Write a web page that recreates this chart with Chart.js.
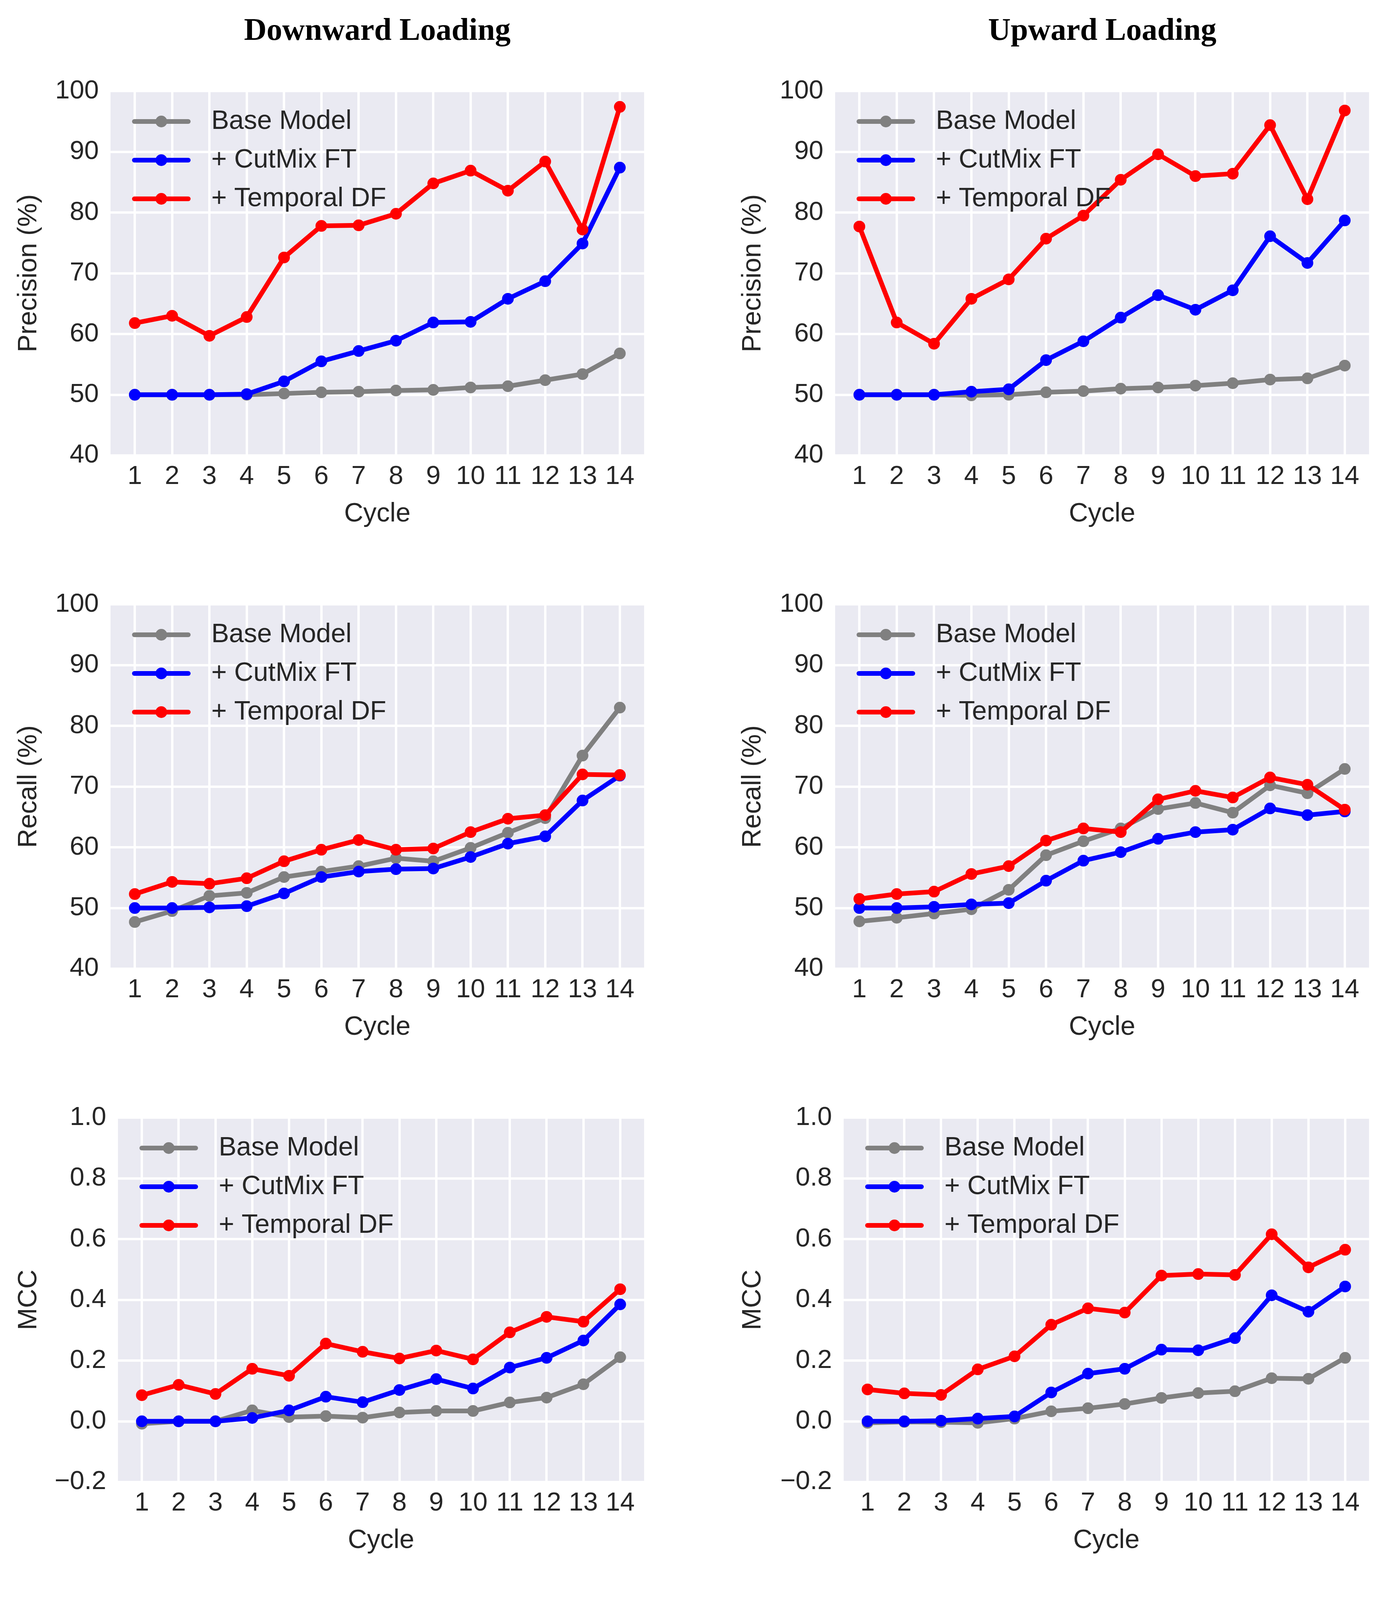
<!DOCTYPE html>
<html>
<head>
<meta charset="utf-8">
<script src="https://cdn.jsdelivr.net/npm/chart.js@4.4.1/dist/chart.umd.min.js"></script>
<style>
  body { margin: 0; background: #fff; }
  #page { position: relative; width: 3551px; height: 5336px; overflow: hidden; }
  .col-title { position: absolute; top: 35px; width: 1000px; text-align: center;
    font: bold 80px "Liberation Serif", "DejaVu Serif", serif; line-height: 80px; color: #000; }
  canvas { position: absolute; }
</style>
</head>
<body>
<div id="page">
<div class="col-title" style="left:466px">Downward Loading</div>
<div class="col-title" style="left:2322px">Upward Loading</div>
</div>
<script>
// cycles on the x axis
const cycles = [1, 2, 3, 4, 5, 6, 7, 8, 9, 10, 11, 12, 13, 14];

// tick labels
const pctTicks = [40, 50, 60, 70, 80, 90, 100];
const pctTickLabels = ['40', '50', '60', '70', '80', '90', '100'];
const mccTicks = [-0.2, 0, 0.2, 0.4, 0.6, 0.8, 1.0];
const mccTickLabels = ['\u22120.2', '0.0', '0.2', '0.4', '0.6', '0.8', '1.0'];
const miouTicks = [0.4, 0.5, 0.6, 0.7, 0.8, 0.9, 1.0];
const miouTickLabels = ['0.4', '0.5', '0.6', '0.7', '0.8', '0.9', '1.0'];

const lineLabels = ['Base Model', '+ CutMix FT', '+ Temporal DF'];
const barLabels = ['Base Model', '+ CutMix FT', '+ RoI filtering', '+ Temporal DF'];

// Precision (%)
const downPrecBase     = [50.0, 50.0, 50.0, 50.0, 50.2, 50.4, 50.5, 50.7, 50.8, 51.2, 51.4, 52.4, 53.4, 56.8];
const downPrecCutmix   = [50.0, 50.0, 50.0, 50.1, 52.2, 55.5, 57.2, 58.9, 61.9, 62.0, 65.8, 68.7, 74.9, 87.4];
const downPrecTemporal = [61.8, 63.0, 59.7, 62.8, 72.6, 77.8, 77.9, 79.8, 84.8, 86.9, 83.6, 88.4, 77.2, 97.4];
const upPrecBase       = [50.0, 50.0, 50.0, 49.9, 50.0, 50.4, 50.6, 51.0, 51.2, 51.5, 51.9, 52.5, 52.7, 54.8];
const upPrecCutmix     = [50.0, 50.0, 50.0, 50.5, 50.9, 55.7, 58.8, 62.7, 66.4, 64.0, 67.2, 76.1, 71.7, 78.7];
const upPrecTemporal   = [77.7, 61.9, 58.4, 65.8, 69.0, 75.7, 79.5, 85.4, 89.6, 86.0, 86.4, 94.4, 82.2, 96.8];

// Recall (%)
const downRecBase      = [47.7, 49.5, 52.0, 52.5, 55.1, 56.0, 56.9, 58.2, 57.7, 59.9, 62.4, 64.8, 75.1, 83.0];
const downRecCutmix    = [50.0, 50.0, 50.1, 50.3, 52.4, 55.1, 56.0, 56.4, 56.5, 58.4, 60.6, 61.8, 67.7, 71.8];
const downRecTemporal  = [52.3, 54.3, 54.0, 54.9, 57.7, 59.6, 61.2, 59.6, 59.8, 62.5, 64.7, 65.3, 72.0, 71.9];
const upRecBase        = [47.8, 48.4, 49.1, 49.8, 53.0, 58.7, 61.0, 63.1, 66.3, 67.3, 65.7, 70.2, 68.9, 72.9];
const upRecCutmix      = [50.0, 50.0, 50.2, 50.6, 50.8, 54.5, 57.8, 59.2, 61.4, 62.5, 62.9, 66.4, 65.3, 65.9];
const upRecTemporal    = [51.5, 52.3, 52.7, 55.6, 56.9, 61.1, 63.1, 62.5, 67.9, 69.3, 68.2, 71.5, 70.3, 66.2];

// MCC
const downMccBase      = [-0.008, 0.0, 0.0, 0.036, 0.014, 0.017, 0.012, 0.029, 0.034, 0.034, 0.062, 0.078, 0.122, 0.211];
const downMccCutmix    = [0.0, 0.0, 0.0, 0.011, 0.036, 0.081, 0.063, 0.103, 0.139, 0.108, 0.177, 0.209, 0.266, 0.385];
const downMccTemporal  = [0.086, 0.120, 0.090, 0.173, 0.150, 0.256, 0.229, 0.207, 0.233, 0.204, 0.293, 0.344, 0.328, 0.435];
const upMccBase        = [-0.005, -0.002, -0.003, -0.005, 0.009, 0.033, 0.043, 0.057, 0.077, 0.093, 0.099, 0.142, 0.140, 0.209];
const upMccCutmix      = [0.0, 0.0, 0.002, 0.009, 0.016, 0.095, 0.157, 0.173, 0.236, 0.234, 0.274, 0.415, 0.361, 0.444];
const upMccTemporal    = [0.105, 0.092, 0.087, 0.171, 0.214, 0.318, 0.372, 0.358, 0.480, 0.485, 0.482, 0.616, 0.507, 0.565];

// mIoU after each stage (cumulative)
const downMiouBase     = [0.478, 0.480, 0.480, 0.481, 0.484, 0.482, 0.481, 0.485, 0.485, 0.489, 0.491, 0.500, 0.510, 0.543];
const downMiouCutmix   = [0.500, 0.500, 0.500, 0.502, 0.511, 0.527, 0.534, 0.539, 0.544, 0.552, 0.571, 0.583, 0.629, 0.688];
const downMiouRoi      = [0.500, 0.500, 0.501, 0.504, 0.525, 0.548, 0.557, 0.562, 0.562, 0.581, 0.602, 0.614, 0.659, 0.712];
const downMiouTemporal = [0.520, 0.535, 0.530, 0.537, 0.563, 0.581, 0.594, 0.584, 0.588, 0.612, 0.627, 0.638, 0.672, 0.712];
const upMiouBase       = [0.478, 0.478, 0.478, 0.479, 0.478, 0.481, 0.481, 0.487, 0.486, 0.491, 0.495, 0.502, 0.502, 0.521];
const upMiouCutmix     = [0.500, 0.500, 0.500, 0.502, 0.504, 0.526, 0.544, 0.559, 0.577, 0.575, 0.584, 0.624, 0.608, 0.627];
const upMiouRoi        = [0.500, 0.500, 0.501, 0.505, 0.508, 0.544, 0.574, 0.591, 0.614, 0.622, 0.627, 0.660, 0.645, 0.655];
const upMiouTemporal   = [0.512, 0.520, 0.522, 0.545, 0.556, 0.592, 0.609, 0.612, 0.662, 0.667, 0.660, 0.701, 0.664, 0.655];

// styles
const TEXT = '#262626';
const PLOT_BG = '#EAEAF2';
const LINE_COLORS = ['#808080', '#0000FF', '#FF0000'];
const BAR_COLORS = ['#808080', '#0000FF', '#FFA500', '#FF0000'];
const FONT = 68, TICK_FONT = 67;
const PLOT_H = 943, PAD_TOP = 60, PAD_RIGHT = 40, X_AXIS_H = 200;
const page = document.getElementById('page');

Chart.defaults.font.family = '"Liberation Sans", Arial, sans-serif';
Chart.defaults.color = TEXT;

const plotBg = {
  id: 'plotBg',
  beforeDraw(chart) {
    const {ctx, chartArea: a} = chart;
    ctx.save();
    ctx.fillStyle = PLOT_BG;
    ctx.fillRect(a.left, a.top, a.width, a.height);
    ctx.restore();
  }
};

// matplotlib draws the legend above the lines
const legendOnTop = {
  id: 'legendOnTop',
  beforeLayout(chart) {
    const lg = chart.legend;
    if (lg && !lg._onTop) {
      lg._onTop = true;
      lg._layers = () => [{z: 1, draw: area => lg.draw(area)}];
    }
  }
};

function lineIcon(color) {
  const c = document.createElement('canvas');
  c.width = 155; c.height = 40;
  const g = c.getContext('2d');
  g.strokeStyle = color; g.lineWidth = 12; g.lineCap = 'round';
  g.beginPath(); g.moveTo(11, 20); g.lineTo(149, 20); g.stroke();
  g.fillStyle = color;
  g.beginPath(); g.arc(80, 20, 15, 0, Math.PI * 2); g.fill();
  return c;
}

function boxIcon(color) {
  const c = document.createElement('canvas');
  c.width = 144; c.height = 46;
  const g = c.getContext('2d');
  g.fillStyle = color;
  g.fillRect(5, 0, 139, 46);
  return c;
}

function mountCanvas(geo) {
  const cv = document.createElement('canvas');
  const w = geo.plotRight + PAD_RIGHT - geo.canvasLeft;
  const h = PAD_TOP + PLOT_H + X_AXIS_H;
  cv.width = w; cv.height = h;
  Object.assign(cv.style, {
    left: geo.canvasLeft + 'px', top: (geo.plotTop - PAD_TOP) + 'px',
    width: w + 'px', height: h + 'px'
  });
  page.appendChild(cv);
  return cv;
}

const gridOpts = {color: '#FFFFFF', lineWidth: 6, drawTicks: false, offset: false};

function xAxis(min, max, stacked) {
  return {
    type: 'linear', min, max, offset: false, stacked,
    afterBuildTicks: s => { s.ticks = cycles.map(v => ({value: v})); },
    afterFit: s => { s.height = X_AXIS_H; },
    grid: gridOpts,
    border: {display: false},
    ticks: {padding: 14, autoSkip: false, maxRotation: 0, color: TEXT,
            font: {size: TICK_FONT}, callback: v => String(v)},
    title: {display: true, text: 'Cycle', color: TEXT, font: {size: FONT}, padding: {top: 0, bottom: 9}}
  };
}

function yAxis(ticks, labels, title, width, stacked) {
  return {
    type: 'linear', min: ticks[0], max: ticks[ticks.length - 1], stacked,
    afterBuildTicks: s => { s.ticks = ticks.map(v => ({value: v})); },
    afterFit: s => { s.width = width; },
    grid: gridOpts,
    border: {display: false},
    ticks: {padding: 30, color: TEXT, font: {size: TICK_FONT}, callback: (v, i) => labels[i]},
    title: {display: true, text: title, color: TEXT, font: {size: FONT}, padding: {top: 0, bottom: 0}}
  };
}

// the legend box starts at the canvas top, so its spacer title also covers PAD_TOP
function legendOpts(icons, iconWidth, pad, titlePad) {
  return {
    position: 'chartArea', align: 'start',
    title: {display: true, text: ' ', font: {size: 10}, padding: {top: PAD_TOP + titlePad, bottom: 0}},
    labels: {
      usePointStyle: true, pointStyleWidth: iconWidth, padding: pad,
      color: TEXT, font: {size: FONT},
      sort: (a, b) => a.datasetIndex - b.datasetIndex,
      generateLabels: chart => Chart.defaults.plugins.legend.labels.generateLabels(chart)
        .map(item => Object.assign(item, {pointStyle: icons[item.datasetIndex]}))
    }
  };
}

function linePanel(geo, series, ticks, tickLabels, title) {
  const cv = mountCanvas(geo);
  const icons = LINE_COLORS.map(lineIcon);
  new Chart(cv, {
    type: 'line',
    data: {
      datasets: series.map((vals, i) => ({
        label: lineLabels[i],
        data: cycles.map((c, j) => ({x: c, y: vals[j]})),
        borderColor: LINE_COLORS[i],
        backgroundColor: LINE_COLORS[i],
        pointBackgroundColor: LINE_COLORS[i],
        borderWidth: 12,
        pointRadius: 15,
        pointBorderWidth: 0,
        borderCapStyle: 'round',
        borderJoinStyle: 'round',
        tension: 0,
        order: series.length - i
      }))
    },
    options: {
      responsive: false, animation: false, events: [],
      layout: {padding: {top: PAD_TOP, right: PAD_RIGHT, left: 0, bottom: 0}},
      scales: {
        x: xAxis(0.35, 14.65, false),
        y: yAxis(ticks, tickLabels, title, geo.plotLeft - geo.canvasLeft, false)
      },
      plugins: {
        legend: legendOpts(icons, 193, 31, 11),
        tooltip: {enabled: false}
      }
    },
    plugins: [plotBg, legendOnTop]
  });
}

function barPanel(geo, stages) {
  const cv = mountCanvas(geo);
  const icons = BAR_COLORS.map(boxIcon);
  new Chart(cv, {
    type: 'bar',
    data: {
      datasets: stages.map((vals, i) => ({
        label: barLabels[i],
        data: cycles.map((c, j) => ({x: c, y: i === 0 ? vals[j] : vals[j] - stages[i - 1][j]})),
        backgroundColor: BAR_COLORS[i],
        borderWidth: 0,
        categoryPercentage: 0.8,
        barPercentage: 1.0,
        clip: 0
      }))
    },
    options: {
      responsive: false, animation: false, events: [],
      layout: {padding: {top: PAD_TOP, right: PAD_RIGHT, left: 0, bottom: 0}},
      scales: {
        x: xAxis(-0.09, 15.09, true),
        y: yAxis(miouTicks, miouTickLabels, 'mIoU', geo.plotLeft - geo.canvasLeft, true)
      },
      plugins: {
        legend: legendOpts(icons, 194, 32, 6.5),
        tooltip: {enabled: false}
      }
    },
    plugins: [plotBg, legendOnTop]
  });
}

const LEFT_COL = 33, RIGHT_COL = 1887;
const ROW_TOP = [223, 1537, 2851, 4165];

linePanel({canvasLeft: LEFT_COL, plotLeft: 283, plotRight: 1649, plotTop: ROW_TOP[0]},
  [downPrecBase, downPrecCutmix, downPrecTemporal], pctTicks, pctTickLabels, 'Precision (%)');
linePanel({canvasLeft: RIGHT_COL, plotLeft: 2138, plotRight: 3505, plotTop: ROW_TOP[0]},
  [upPrecBase, upPrecCutmix, upPrecTemporal], pctTicks, pctTickLabels, 'Precision (%)');

linePanel({canvasLeft: LEFT_COL, plotLeft: 283, plotRight: 1649, plotTop: ROW_TOP[1]},
  [downRecBase, downRecCutmix, downRecTemporal], pctTicks, pctTickLabels, 'Recall (%)');
linePanel({canvasLeft: RIGHT_COL, plotLeft: 2138, plotRight: 3505, plotTop: ROW_TOP[1]},
  [upRecBase, upRecCutmix, upRecTemporal], pctTicks, pctTickLabels, 'Recall (%)');

linePanel({canvasLeft: LEFT_COL, plotLeft: 302, plotRight: 1649, plotTop: ROW_TOP[2]},
  [downMccBase, downMccCutmix, downMccTemporal], mccTicks, mccTickLabels, 'MCC');
linePanel({canvasLeft: RIGHT_COL, plotLeft: 2160, plotRight: 3505, plotTop: ROW_TOP[2]},
  [upMccBase, upMccCutmix, upMccTemporal], mccTicks, mccTickLabels, 'MCC');

barPanel({canvasLeft: LEFT_COL, plotLeft: 265, plotRight: 1649, plotTop: ROW_TOP[3]},
  [downMiouBase, downMiouCutmix, downMiouRoi, downMiouTemporal]);
barPanel({canvasLeft: RIGHT_COL, plotLeft: 2121, plotRight: 3505, plotTop: ROW_TOP[3]},
  [upMiouBase, upMiouCutmix, upMiouRoi, upMiouTemporal]);
</script>
</body>
</html>
